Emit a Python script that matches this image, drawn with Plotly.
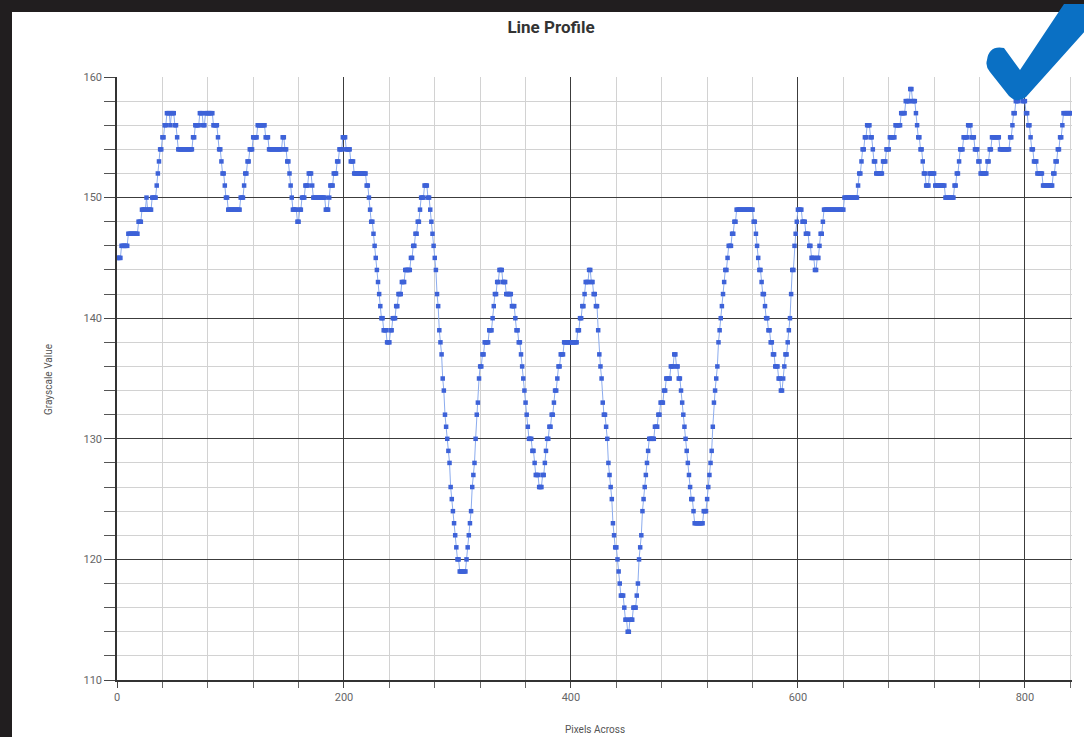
import numpy as np
import plotly.graph_objects as go

# ---- data: grayscale level runs read along the profile (value, number of pixels) ----
gray_run_values = [
    145, 146, 147, 148, 149, 150, 149, 150, 151, 152, 153, 154, 155, 156, 157, 156, 157, 156, 155, 154,
    155, 156, 157, 156, 157, 156, 155, 154, 153, 152, 151, 150, 149, 150, 151, 152, 153, 154, 155, 156,
    155, 154, 155, 154, 153, 152, 151, 150, 149, 148, 149, 150, 151, 152, 151, 150, 149, 150, 151, 152,
    153, 154, 155, 154, 153, 152, 151, 150, 149, 148, 147, 146, 145, 144, 143, 142, 141, 140, 139, 138,
    139, 140, 141, 142, 143, 144, 145, 146, 147, 148, 149, 150, 151, 150, 149, 148, 147, 146, 145, 144,
    142, 141, 139, 138, 137, 135, 134, 132, 131, 130, 129, 128, 126, 125, 124, 123, 122, 121, 120, 119,
    120, 121, 122, 123, 124, 126, 127, 128, 130, 132, 133, 135, 136, 137, 138, 139, 140, 141, 142, 143,
    144, 143, 142, 141, 140, 139, 138, 137, 136, 135, 134, 133, 132, 131, 130, 129, 128, 127, 126, 127,
    128, 129, 130, 131, 132, 133, 134, 135, 136, 137, 138, 139, 140, 141, 142, 143, 144, 143, 142, 141,
    139, 137, 136, 135, 133, 132, 131, 130, 128, 127, 126, 125, 123, 122, 121, 120, 119, 118, 117, 116,
    115, 114, 115, 116, 117, 118, 120, 121, 122, 124, 125, 126, 127, 128, 129, 130, 131, 132, 133, 134,
    135, 136, 137, 136, 135, 134, 133, 132, 131, 130, 129, 128, 127, 126, 125, 124, 123, 124, 125, 126,
    127, 128, 129, 131, 133, 134, 135, 136, 138, 139, 140, 141, 142, 143, 144, 145, 146, 147, 148, 149,
    148, 147, 146, 145, 144, 143, 142, 141, 140, 139, 138, 137, 136, 135, 134, 135, 136, 137, 138, 139,
    140, 142, 144, 146, 147, 148, 149, 148, 147, 146, 145, 144, 145, 146, 147, 148, 149, 150, 151, 152,
    153, 154, 155, 156, 155, 154, 153, 152, 153, 154, 155, 156, 157, 158, 159, 158, 157, 156, 155, 154,
    153, 152, 151, 152, 151, 150, 151, 152, 153, 154, 155, 156, 155, 154, 153, 152, 153, 154, 155, 154,
    155, 156, 157, 158, 159, 158, 157, 156, 155, 154, 153, 152, 151, 152, 153, 154, 155, 156, 157,
]
gray_run_lengths = [
    4, 6, 9, 3, 4, 1, 4, 4, 1, 1, 1, 2, 2, 2, 3, 1, 3, 2, 1, 13,
    2, 4, 3, 2, 7, 4, 1, 2, 1, 2, 1, 2, 11, 3, 1, 2, 2, 3, 4, 7,
    3, 12, 2, 2, 2, 1, 1, 1, 4, 2, 2, 3, 3, 3, 1, 11, 3, 1, 3, 3,
    2, 3, 3, 4, 3, 11, 2, 1, 1, 2, 1, 1, 1, 1, 1, 1, 1, 2, 3, 3,
    2, 3, 2, 3, 3, 5, 2, 2, 2, 2, 1, 3, 3, 2, 1, 1, 1, 1, 1, 1,
    1, 1, 1, 1, 1, 1, 1, 1, 1, 1, 1, 1, 1, 1, 1, 1, 1, 1, 2, 6,
    1, 1, 1, 1, 1, 1, 1, 1, 1, 1, 1, 1, 2, 2, 4, 3, 1, 1, 2, 2,
    3, 3, 5, 3, 1, 2, 2, 1, 1, 1, 1, 1, 1, 1, 3, 2, 1, 3, 3, 2,
    1, 1, 2, 2, 2, 1, 2, 1, 2, 3, 12, 2, 2, 2, 1, 3, 2, 2, 2, 2,
    1, 1, 1, 1, 1, 2, 1, 1, 1, 1, 1, 1, 1, 1, 2, 1, 1, 1, 3, 1,
    2, 2, 3, 3, 1, 1, 1, 1, 1, 1, 1, 1, 1, 1, 1, 5, 3, 2, 3, 2,
    4, 3, 2, 2, 2, 1, 1, 1, 1, 1, 1, 1, 1, 1, 2, 1, 8, 3, 1, 1,
    1, 1, 1, 1, 1, 1, 1, 1, 1, 1, 1, 1, 1, 1, 2, 1, 3, 2, 2, 15,
    2, 1, 1, 1, 2, 1, 2, 1, 2, 2, 2, 2, 3, 2, 2, 1, 1, 2, 1, 1,
    1, 1, 2, 1, 1, 1, 4, 3, 3, 2, 3, 2, 2, 1, 2, 1, 18, 12, 1, 2,
    1, 2, 2, 3, 2, 1, 2, 6, 3, 3, 5, 5, 4, 4, 2, 3, 1, 1, 2, 2,
    1, 2, 3, 5, 9, 8, 2, 2, 1, 3, 4, 3, 3, 3, 2, 6, 2, 2, 7, 9,
    2, 1, 2, 3, 3, 3, 2, 2, 1, 2, 3, 5, 9, 2, 2, 2, 2, 1, 8,
]
x_axis_ticks = [0, 200, 400, 600, 800]
y_axis_ticks = [110, 120, 130, 140, 150, 160]

gray_values = np.repeat(gray_run_values, gray_run_lengths)
pixel_positions = np.arange(len(gray_values))

# ---- layout geometry (pixels) ----
W, H = 1084, 737
ML, MR, MT, MB = 117, 12, 77, 57
PW, PH = W - ML - MR, H - MT - MB


def px(xp):
    return (xp - ML) / PW


def py(yp):
    return (H - MB - yp) / PH


fig = go.Figure()
fig.add_trace(go.Scatter(
    x=pixel_positions, y=gray_values, mode="lines+markers",
    line=dict(color="#8cacee", width=1),
    marker=dict(symbol="square", size=4.5, color="#3d62d8", line=dict(width=0)),
    hoverinfo="x+y", showlegend=False,
))

axis_font = dict(family="Roboto, Arial, sans-serif", size=11, color="#666666")

fig.update_layout(
    width=W, height=H,
    margin=dict(l=ML, r=MR, t=MT, b=MB),
    paper_bgcolor="white", plot_bgcolor="white",
    title=dict(text="<b>Line Profile</b>", x=551 / W, xref="container", xanchor="center",
               y=1 - 27 / H, yref="container", yanchor="middle",
               font=dict(family="Roboto, Arial, sans-serif", size=17, color="#333333")),
    xaxis=dict(range=[0, 841.5], tickmode="array", tickvals=x_axis_ticks,
               ticktext=[str(v) for v in x_axis_ticks],
               ticks="outside", ticklen=6, tickcolor="#444", tickwidth=1,
               showgrid=True, gridcolor="#3c3c3c", gridwidth=1,
               minor=dict(dtick=40, tick0=0, ticks="outside", ticklen=6, tickcolor="#666",
                          showgrid=True, gridcolor="#d2d2d2", gridwidth=1),
               showline=True, linecolor="#333", linewidth=1.5, zeroline=False,
               tickfont=axis_font, fixedrange=True),
    yaxis=dict(range=[110, 160], tickmode="array", tickvals=y_axis_ticks,
               ticktext=[str(v) for v in y_axis_ticks],
               ticks="outside", ticklen=11, tickcolor="#444", tickwidth=1,
               showgrid=True, gridcolor="#3c3c3c", gridwidth=1,
               minor=dict(dtick=2, tick0=110, ticks="outside", ticklen=11, tickcolor="#555",
                          showgrid=True, gridcolor="#d2d2d2", gridwidth=1),
               showline=True, linecolor="#333", linewidth=1.5, zeroline=False,
               tickfont=axis_font, fixedrange=True),
    annotations=[
        dict(text="Pixels Across", x=px(595), y=py(729), xref="paper", yref="paper",
             showarrow=False, xanchor="center", yanchor="middle",
             font=dict(family="Roboto, Arial, sans-serif", size=10, color="#555")),
        dict(text="Grayscale Value", x=px(48), y=py(380), xref="paper", yref="paper",
             showarrow=False, textangle=-90, xanchor="center", yanchor="middle",
             font=dict(family="Roboto, Arial, sans-serif", size=10, color="#555")),
    ],
)

# dark frame of the screenshot (top and left edges)
frame = "#211e1f"
fig.add_shape(type="rect", xref="paper", yref="paper", x0=px(-2), x1=px(12), y0=py(H + 2), y1=py(-2),
              fillcolor=frame, line=dict(width=0), layer="above")
fig.add_shape(type="rect", xref="paper", yref="paper", x0=px(-2), x1=px(W + 2), y0=py(12), y1=py(-2),
              fillcolor=frame, line=dict(width=0), layer="above")

# blue check mark overlay in the top-right corner
pts = [("M", 987, 60), ("Q", 989, 45, 1004, 48), ("L", 1020, 70), ("L", 1064, 4), ("L", 1086, 4),
       ("L", 1086, 30), ("L", 1026, 97), ("Q", 1017, 104, 1009, 96), ("L", 990, 72), ("Q", 985, 66, 987, 60)]
path = ""
for p in pts:
    cmd, coords = p[0], p[1:]
    parts = []
    for i in range(0, len(coords), 2):
        parts.append(f"{px(coords[i]):.5f},{py(coords[i + 1]):.5f}")
    path += cmd + " " + " ".join(parts) + " "
path += "Z"
fig.add_shape(type="path", xref="paper", yref="paper", path=path,
              fillcolor="#0a70c4", line=dict(width=0), layer="above")

fig.write_html("out.html")
